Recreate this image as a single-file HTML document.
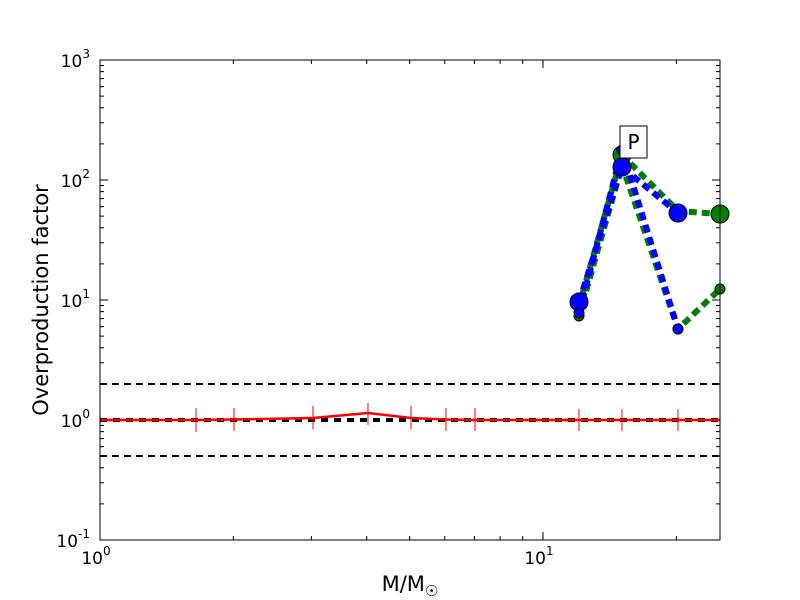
<!DOCTYPE html>
<html><head><style>body{margin:0;background:#fff}svg{display:block}text{font-family:"DejaVu Sans","Liberation Sans",sans-serif}</style></head>
<body>
<svg width="800" height="600" viewBox="0 0 800 600" xmlns="http://www.w3.org/2000/svg">
<rect width="800" height="600" fill="#fff"/>
<g id="ticks" stroke="#000" stroke-width="1"></g>
<line x1="100" y1="384" x2="720" y2="384" stroke="#000" stroke-width="2" stroke-dasharray="7,5"/>
<line x1="100" y1="456" x2="720" y2="456" stroke="#000" stroke-width="2" stroke-dasharray="7,5"/>
<line x1="100" y1="420" x2="720" y2="420" stroke="#000" stroke-width="4" stroke-dasharray="7,6"/>
<polyline fill="none" stroke="#f00" stroke-width="2.5" points="100,420 196,420 234,419.5 313,418 368,413 411,418 446,419.5 475,420 579,420 622,420 678,420 720,420"/>
<g stroke="#f00" stroke-width="1">
<line x1="196" y1="408" x2="196" y2="432"/><line x1="234" y1="408" x2="234" y2="431"/>
<line x1="313" y1="406" x2="313" y2="429"/><line x1="368" y1="403" x2="368" y2="425"/>
<line x1="411" y1="406" x2="411" y2="429"/><line x1="446" y1="408" x2="446" y2="431"/>
<line x1="475" y1="408" x2="475" y2="431"/><line x1="579" y1="409" x2="579" y2="431"/>
<line x1="622" y1="409" x2="622" y2="431"/><line x1="678" y1="409" x2="678" y2="431"/>
</g>
<polyline fill="none" stroke="#008000" stroke-width="6" stroke-dasharray="8,5" points="579,306 622,155 678,211 720,214"/>
<polyline fill="none" stroke="#008000" stroke-width="6" stroke-dasharray="8,5" points="579,316 622,165 678,329 720,289"/>
<polyline fill="none" stroke="#00f" stroke-width="6" stroke-dasharray="8,5" points="579,302 622,167 678,213"/>
<polyline fill="none" stroke="#00f" stroke-width="6" stroke-dasharray="8,5" points="579,313 622,150 678,329"/>
<g stroke="#000" stroke-width="1">
<circle cx="622" cy="155" r="9" fill="#008000"/><circle cx="720" cy="214" r="9" fill="#008000"/>
<circle cx="579" cy="316" r="5" fill="#008000"/><circle cx="678" cy="329" r="5" fill="#008000"/><circle cx="720" cy="289" r="5" fill="#008000"/>
<circle cx="579" cy="302" r="9" fill="#00f"/><circle cx="622" cy="167" r="9" fill="#00f"/><circle cx="678" cy="213" r="9" fill="#00f"/>
<circle cx="579" cy="313" r="5" fill="#00f"/><circle cx="622" cy="150" r="5" fill="#00f"/><circle cx="678" cy="329" r="5" fill="#00f"/>
</g>
<rect x="620" y="126" width="27" height="32" fill="#fff" stroke="#000" stroke-width="1"/>
<text x="633.5" y="149" font-size="20" text-anchor="middle">P</text>
<rect x="100" y="60" width="620" height="480" fill="none" stroke="#000" stroke-width="1"/>
<g font-size="17" text-anchor="end">
<text x="90" y="547">10<tspan dy="-9" font-size="12">-1</tspan></text>
<text x="90" y="427">10<tspan dy="-9" font-size="12">0</tspan></text>
<text x="90" y="307">10<tspan dy="-9" font-size="12">1</tspan></text>
<text x="90" y="187">10<tspan dy="-9" font-size="12">2</tspan></text>
<text x="90" y="67">10<tspan dy="-9" font-size="12">3</tspan></text>
</g>
<g font-size="17" text-anchor="middle">
<text x="96" y="564">10<tspan dy="-9" font-size="12">0</tspan></text>
<text x="539" y="564">10<tspan dy="-9" font-size="12">1</tspan></text>
</g>
<text x="410" y="591" font-size="21" text-anchor="middle">M/M<tspan dy="5" font-size="15">☉</tspan></text>
<text transform="translate(48,300) rotate(-90)" font-size="21" text-anchor="middle">Overproduction factor</text>
</svg>
<script>
var g=document.getElementById('ticks'),s='';
function L(a,b,c,d){s+='<line x1="'+a+'" y1="'+b+'" x2="'+c+'" y2="'+d+'"/>';}
for(var dec=0;dec<2;dec++)for(var k=1;k<10;k++){var x=100+443*(dec+Math.log10(k));if(x>720)break;var l=k==1?8:4;L(x,540,x,540-l);L(x,60,x,60+l);}
for(var dec=0;dec<4;dec++)for(var k=1;k<10;k++){var y=540-120*(dec+Math.log10(k));var l=k==1?8:4;L(100,y,100+l,y);L(720,y,720-l,y);}
g.innerHTML=s;
</script>
</body></html>
